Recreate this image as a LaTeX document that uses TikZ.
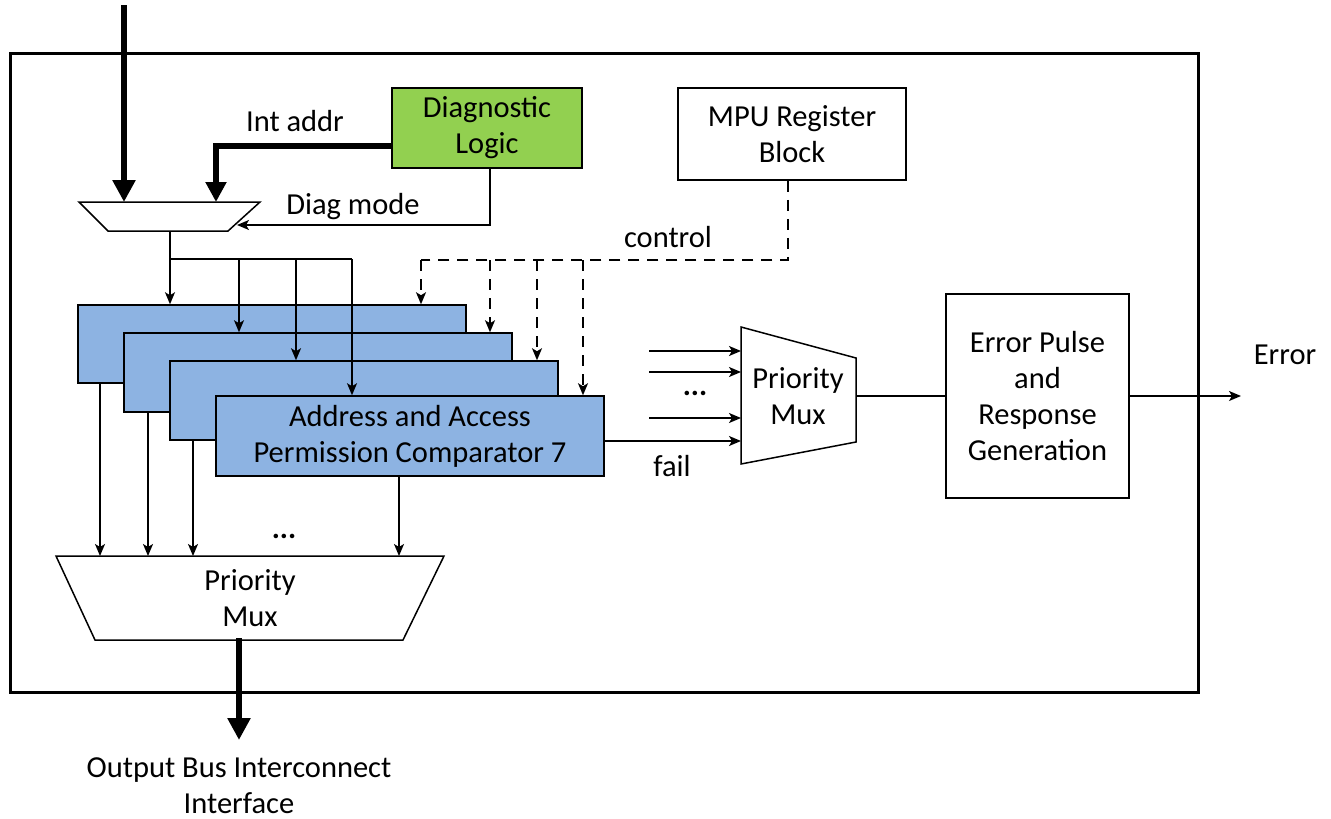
\documentclass[tikz,border=0pt]{standalone}
\usepackage{fontspec}
\setmainfont{Carlito}
\usetikzlibrary{arrows.meta}
\definecolor{diaggreen}{HTML}{92D050}
\definecolor{compblue}{HTML}{8DB3E2}
\begin{document}
\begin{tikzpicture}[x=1pt,y=-1pt,
  wire/.style={line width=1.5pt},
  tip/.style={wire,-{Stealth[length=12pt,width=10pt,inset=3pt]}},
  bus/.style={line width=5.5pt,-{Triangle[length=22pt,width=22pt]}},
  box/.style={draw,line width=1.5pt,align=center,inner sep=0pt},
  ctrl/.style={wire,dash pattern=on 11pt off 8pt},
  lbl/.style={align=center,inner sep=0pt},
  every node/.style={font=\fontsize{30.5}{36}\selectfont}
]
\useasboundingbox (0,0) rectangle (1331,819);

% outer frame
\draw[line width=3pt] (10,53) rectangle (1198,692);

% blocks
\node[box,fill=diaggreen,minimum width=190pt,minimum height=80pt] (diag) at (487,128) {Diagnostic\\Logic};
\node[box,minimum width=228pt,minimum height=92pt] (mpu) at (792,134) {MPU Register\\Block};
\node[box,minimum width=183pt,minimum height=204pt] (err) at (1037.5,396) {Error Pulse\\and\\Response\\Generation};

% comparators
\node[box,fill=compblue,minimum width=388pt,minimum height=78pt] (c1) at (272,344) {};
\node[box,fill=compblue,minimum width=388pt,minimum height=79pt] (c2) at (318,372.5) {};
\node[box,fill=compblue,minimum width=388pt,minimum height=79pt] (c3) at (364,400.5) {};
\node[box,fill=compblue,minimum width=388pt,minimum height=80pt] (c4) at (410,436) {Address and Access\\Permission Comparator 7};

% top input mux
\draw[wire,fill=white] (79,202) -- (260,202) -- (228,231) -- (108,231) -- cycle;
\coordinate (tmuxout) at (170,231);
\coordinate (tmuxa) at (124,202);
\coordinate (tmuxb) at (216,202);
\coordinate (tmuxs) at (237,225);
\coordinate (inp) at (124,5);

% right priority mux
\draw[wire,fill=white] (741,327) -- (856,358) -- (856,442) -- (741,464) -- cycle;
\node[lbl] (rmux) at (798,396) {Priority\\Mux};
\coordinate (rmuxout) at (856,396);

% bottom priority mux
\draw[wire,fill=white] (56,556) -- (444,556) -- (403,640) -- (95,640) -- cycle;
\node[lbl] (bmux) at (250,598) {Priority\\Mux};
\coordinate (bmuxout) at (239,638);

% input bus
\draw[bus] (inp) -- (tmuxa);
% int addr
\draw[line width=5.5pt,-{Triangle[length=20pt,width=20pt]}] (diag.west |- 0,146) -| (tmuxb);
\node[lbl] at (295,121) {Int addr};
% diag mode
\draw[tip] (diag.south -| 490,0) |- (tmuxs);
\node[lbl] at (353,207) {Diag mode};

% distribution from top mux
\draw[wire] (tmuxout) -- (170,259) -- (352,259);
\draw[tip] (170,259) -- (c1.north -| 170,0);
\draw[tip] (239,259) -- (c2.north -| 239,0);
\draw[tip] (296,259) -- (c3.north -| 296,0);
\draw[tip] (352,259) -- (c4.north -| 352,0);

% control (dashed)
\draw[ctrl] (mpu.south -| 788,0) -- (788,260) -- (421,260);
\draw[ctrl,-{Stealth[length=12pt,width=10pt,inset=3pt]}] (421,260) -- (c1.north -| 421,0);
\draw[ctrl,-{Stealth[length=12pt,width=10pt,inset=3pt]}] (490,260) -- (c2.north -| 490,0);
\draw[ctrl,-{Stealth[length=12pt,width=10pt,inset=3pt]}] (537,260) -- (c3.north -| 537,0);
\draw[ctrl,-{Stealth[length=12pt,width=10pt,inset=3pt]}] (583,260) -- (c4.north -| 583,0);
\node[lbl] at (668,237) {control};

% comparator outputs to bottom mux
\draw[tip] (c1.south -| 100,0) -- (100,556);
\draw[tip] (c2.south -| 148,0) -- (148,556);
\draw[tip] (c3.south -| 193,0) -- (193,556);
\draw[tip] (c4.south -| 399,0) -- (399,556);
\node[lbl] at (284,536) {\textbf{...}};

% inputs to right mux
\draw[tip] (649,351) -- (741,351);
\draw[tip] (649,372) -- (741,372);
\draw[tip] (649,418) -- (741,418);
\draw[tip] (c4.east |- 0,441) -- (741,441);
\node[lbl] at (695,393) {\textbf{...}};
\node[lbl] at (672,466) {fail};

% mux -> error box -> out
\draw[wire] (rmuxout) -- (err.west |- rmuxout);
\coordinate (errout) at (1241,396);
\draw[tip] (err.east |- errout) -- (errout);
\node[lbl] at (1285,355) {Error};

% output bus
\coordinate (obus) at (239,740);
\draw[bus] (bmuxout) -- (obus);
\node[lbl] at (239,786) {Output Bus Interconnect\\Interface};
\end{tikzpicture}
\end{document}
